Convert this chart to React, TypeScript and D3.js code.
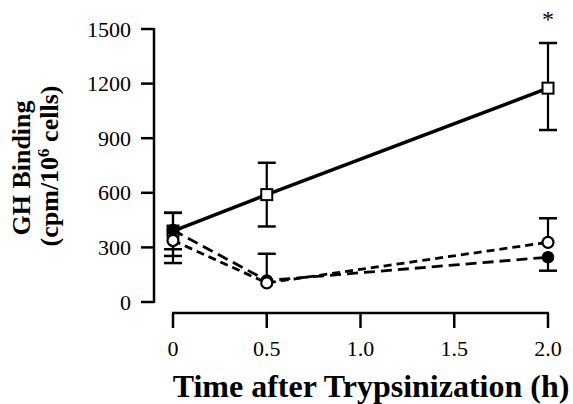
import React from "react";
import * as d3 from "d3";

const times = [0, 0.5, 2.0];
const squareMean = [390, 590, 1175];
const squareLow = [290, 415, 945];
const squareHigh = [490, 765, 1423];
const openMean = [338, 105, 328];
const openLow = [214, 105, 328];
const openHigh = [490, 265, 460];
const filledMean = [395, 118, 246];
const filledLow = [253, 118, 172];
const filledHigh = [395, 118, 246];
const filledOnTop = [true, false, true];
const xTicks = [0, 0.5, 1.0, 1.5, 2.0];
const xTickLabels = ["0", "0.5", "1.0", "1.5", "2.0"];
const yTicks = [0, 300, 600, 900, 1200, 1500];

const W = 573;
const H = 404;
const FONT = "'Liberation Serif', 'Times New Roman', serif";

export default function App() {
  const x = d3.scaleLinear().domain([0, 2]).range([173, 548]);
  const y = d3.scaleLinear().domain([0, 1500]).range([302, 29]);
  const axisX = 154;
  const axisY = 313;

  const line = d3
    .line<[number, number]>()
    .x((d) => x(d[0]))
    .y((d) => y(d[1]));

  const pts = (m: number[]) => times.map((t, i) => [t, m[i]] as [number, number]);

  const errBars = (mean: number[], low: number[], high: number[], key: string) =>
    times.map((t, i) => {
      const cx = x(t);
      const els: any[] = [];
      if (high[i] !== low[i]) {
        els.push(
          <line key={key + "v" + i} x1={cx} x2={cx} y1={y(high[i])} y2={y(low[i])} stroke="#000" strokeWidth={2.2} />
        );
      }
      if (high[i] !== mean[i]) {
        els.push(
          <line key={key + "h" + i} x1={cx - 9} x2={cx + 9} y1={y(high[i])} y2={y(high[i])} stroke="#000" strokeWidth={2.5} />
        );
      }
      if (low[i] !== mean[i]) {
        els.push(
          <line key={key + "l" + i} x1={cx - 9} x2={cx + 9} y1={y(low[i])} y2={y(low[i])} stroke="#000" strokeWidth={2.5} />
        );
      }
      return els;
    });

  const openC = (i: number) => (
    <circle key={"oc" + i} cx={x(times[i])} cy={y(openMean[i])} r={5.5} fill="#fff" stroke="#000" strokeWidth={2.2} />
  );
  const filledC = (i: number) => (
    <circle key={"fc" + i} cx={x(times[i])} cy={y(filledMean[i])} r={5.5} fill="#000" stroke="#000" strokeWidth={1.5} />
  );

  return (
    <svg width={W} height={H} style={{ position: "absolute", left: 0, top: 0, background: "#fff" }} fontFamily={FONT}>
      <rect x={0} y={0} width={W} height={H} fill="#fff" />
      {/* Y axis */}
      <line x1={axisX} x2={axisX} y1={y(1500) - 1} y2={y(0) + 1} stroke="#000" strokeWidth={2.5} />
      {yTicks.map((t) => (
        <g key={"yt" + t}>
          <line x1={axisX - 13} x2={axisX} y1={y(t)} y2={y(t)} stroke="#000" strokeWidth={2.5} />
          <text x={131} y={y(t) + 7.5} textAnchor="end" fontSize={22} fontFamily={FONT}>
            {t}
          </text>
        </g>
      ))}
      {/* X axis */}
      <line x1={x(0) - 1} x2={x(2) + 1} y1={axisY} y2={axisY} stroke="#000" strokeWidth={2.5} />
      {xTicks.map((t, i) => (
        <g key={"xt" + t}>
          <line x1={x(t)} x2={x(t)} y1={axisY} y2={axisY + 15} stroke="#000" strokeWidth={2.5} />
          <text x={x(t)} y={356} textAnchor="middle" fontSize={22} fontFamily={FONT}>
            {xTickLabels[i]}
          </text>
        </g>
      ))}
      <text x={371} y={397} textAnchor="middle" fontSize={32} fontWeight="bold" fontFamily={FONT}>
        Time after Trypsinization (h)
      </text>
      <text transform="translate(30,168) rotate(-90)" textAnchor="middle" fontSize={26} fontWeight="bold" fontFamily={FONT}>
        GH Binding
      </text>
      <text transform="translate(58,166) rotate(-90)" textAnchor="middle" fontSize={26} fontWeight="bold" fontFamily={FONT}>
        (cpm/10
        <tspan fontSize={17} dy={-9}>6</tspan>
        <tspan dy={9}> cells)</tspan>
      </text>

      {/* Lines */}
      <path d={line(pts(filledMean)) || ""} fill="none" stroke="#000" strokeWidth={2.8} strokeDasharray="11 6" />
      <path d={line(pts(openMean)) || ""} fill="none" stroke="#000" strokeWidth={2.8} strokeDasharray="8 5" />
      <path d={line(pts(squareMean)) || ""} fill="none" stroke="#000" strokeWidth={3.5} />

      {/* Error bars */}
      {errBars(squareMean, squareLow, squareHigh, "s")}
      {errBars(openMean, openLow, openHigh, "o")}
      {errBars(filledMean, filledLow, filledHigh, "f")}

      {/* Markers */}
      {times.map((t, i) => (
        <rect key={"sq" + i} x={x(t) - 5.5} y={y(squareMean[i]) - 5.5} width={11} height={11} fill="#fff" stroke="#000" strokeWidth={2} />
      ))}
      {times.map((_, i) => (filledOnTop[i] ? [openC(i), filledC(i)] : [filledC(i), openC(i)]))}
      <text x={x(2)} y={27} textAnchor="middle" fontSize={24} fontFamily={FONT}>
        *
      </text>
    </svg>
  );
}
